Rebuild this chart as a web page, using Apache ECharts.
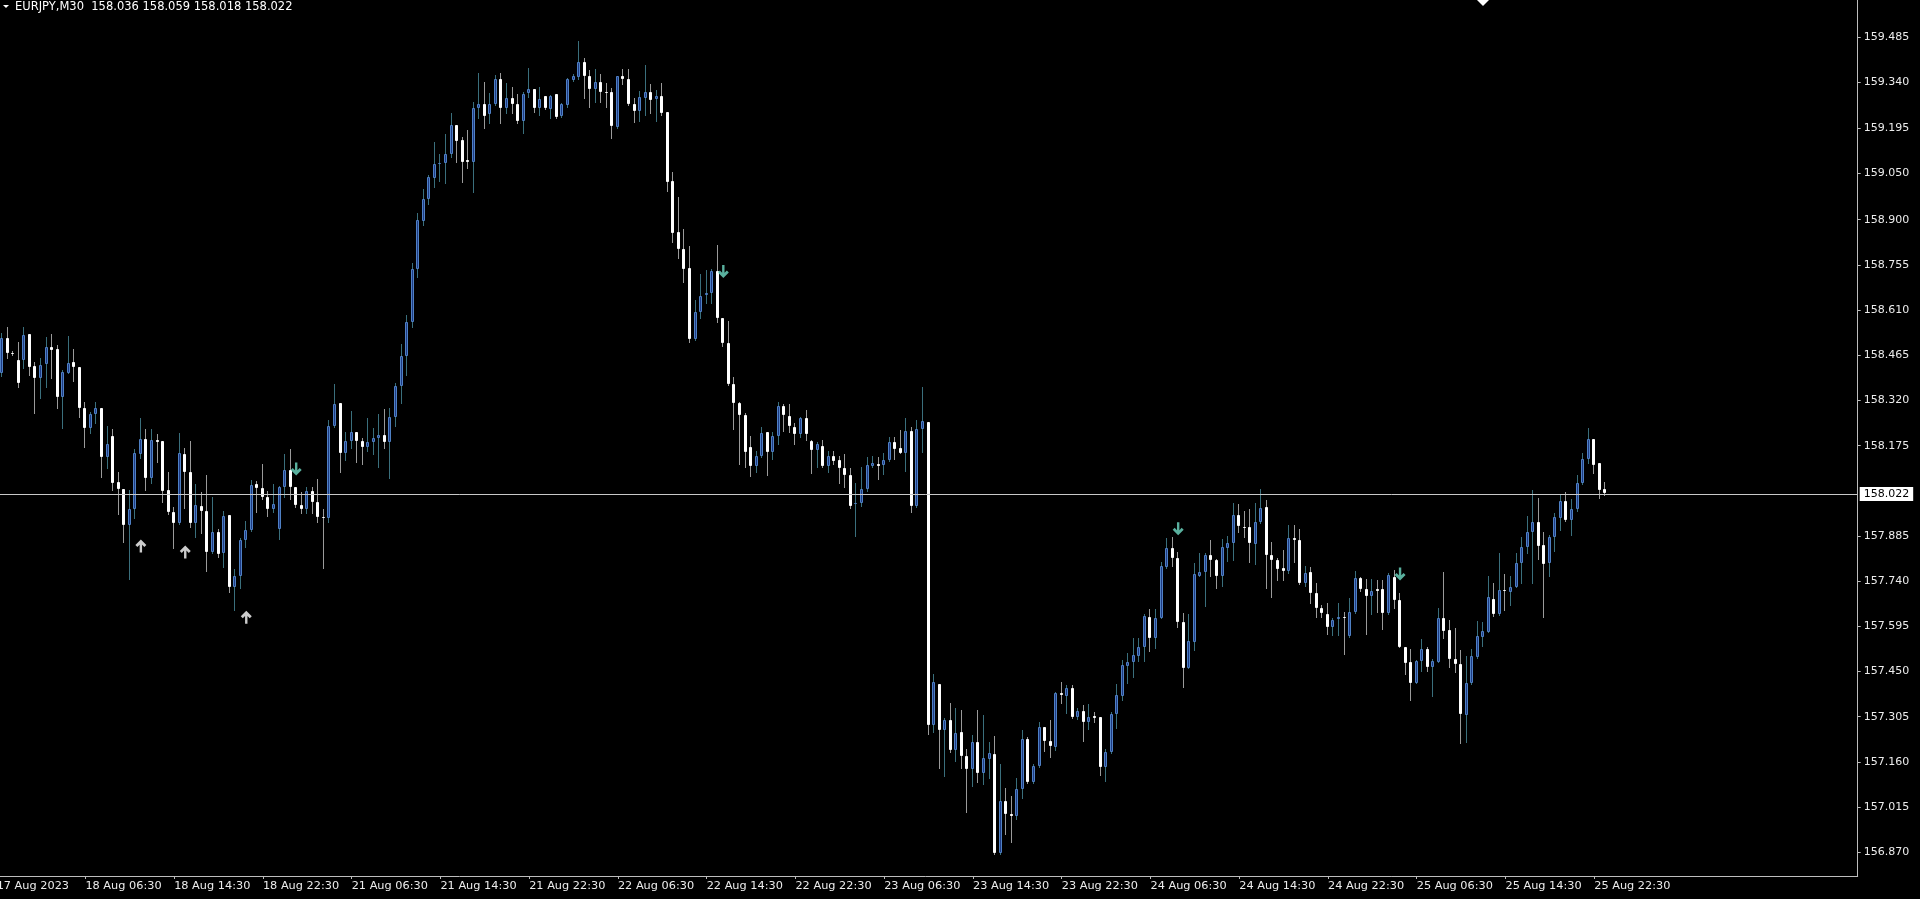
<!DOCTYPE html>
<html><head><meta charset="utf-8">
<script src="https://cdn.jsdelivr.net/npm/echarts@6/dist/echarts.min.js"></script>
<style>html,body{margin:0;padding:0;background:#000;overflow:hidden;width:1920px;height:899px;position:relative}
#c{position:absolute;left:-7px;top:0;width:1927px;height:899px}</style>
</head><body><div id="c"></div>
<script>
const symbolName = 'EURJPY,M30';
const open = [null,
158.407,158.519,158.473,158.450,158.450,158.532,158.431,158.391,158.436,158.492,
158.484,158.332,158.409,158.445,158.428,158.297,158.233,158.276,158.297,158.140,
158.206,158.059,158.036,157.920,157.971,158.148,158.195,158.070,158.192,158.190,
158.033,157.963,157.926,158.148,158.092,157.926,157.981,157.966,157.835,157.899,
157.830,157.952,157.720,157.757,157.872,157.904,158.051,158.040,158.011,157.971,
157.906,158.041,158.097,158.041,157.985,157.971,158.031,157.993,157.947,157.943,
158.239,158.311,158.150,158.190,158.218,158.190,158.172,158.186,158.199,158.209,
158.186,158.266,158.368,158.464,158.571,158.741,158.897,158.966,159.033,159.079,
159.081,159.112,159.204,159.155,159.091,159.086,159.258,159.273,159.238,159.273,
159.351,159.260,159.292,159.270,159.218,159.306,159.319,159.258,159.297,159.255,
159.303,159.233,159.268,159.348,159.359,159.407,159.362,159.319,159.343,159.310,
159.311,159.199,159.361,159.351,159.270,159.249,159.290,159.311,159.288,159.297,
159.247,159.025,158.860,158.806,158.744,158.516,158.603,158.657,158.664,158.737,
158.586,158.506,158.372,158.311,158.273,158.172,158.110,158.143,158.218,158.154,
158.207,158.302,158.271,158.236,158.211,158.265,158.191,158.161,158.175,158.110,
158.142,158.129,158.104,158.080,157.987,157.990,158.036,158.111,158.115,158.113,
158.129,158.188,158.166,158.153,158.222,157.981,158.227,158.252,157.279,157.410,
157.263,157.293,157.198,157.255,157.179,157.137,157.225,157.123,157.168,157.185,
156.869,157.033,156.993,156.987,157.072,157.234,157.094,157.147,157.273,157.228,
157.209,157.381,157.373,157.396,157.305,157.323,157.287,157.307,157.303,157.143,
157.191,157.313,157.373,157.469,157.480,157.501,157.529,157.626,157.557,157.623,
157.787,157.846,157.816,157.610,157.463,157.546,157.758,157.771,157.824,157.808,
157.758,157.846,157.862,157.953,157.915,157.913,157.859,157.929,157.977,157.824,
157.808,157.781,157.774,157.880,157.872,157.735,157.769,157.701,157.655,157.635,
157.594,157.618,157.626,157.564,157.640,157.749,157.715,157.694,157.714,157.714,
157.637,157.755,157.680,157.530,157.480,157.414,157.484,157.521,157.466,157.482,
157.621,157.583,157.490,157.474,157.311,157.412,157.498,157.562,157.578,157.683,
157.635,157.713,157.704,157.722,157.797,157.849,157.897,157.931,157.856,157.797,
157.881,157.944,157.997,157.936,157.971,158.054,158.131,158.196,158.120,158.036];
const high = [null,
158.535,158.557,158.478,158.507,158.555,158.532,158.445,158.455,158.525,158.532,
158.498,158.418,158.527,158.484,158.428,158.316,158.284,158.316,158.297,158.238,
158.227,158.092,158.036,158.033,158.163,158.263,158.227,158.227,158.212,158.190,
158.092,157.979,158.215,158.166,158.191,158.052,158.027,158.081,158.009,157.908,
157.966,157.952,157.778,157.878,157.934,158.065,158.063,158.115,158.031,158.051,
158.046,158.148,158.164,158.041,158.025,158.041,158.041,158.068,157.971,158.257,
158.373,158.311,158.220,158.286,158.218,158.199,158.263,158.231,158.276,158.293,
158.295,158.375,158.500,158.594,158.760,158.921,158.998,159.044,159.151,159.110,
159.175,159.242,159.204,159.165,159.187,159.277,159.370,159.343,159.308,159.365,
159.370,159.338,159.325,159.302,159.311,159.386,159.319,159.327,159.297,159.300,
159.303,159.274,159.356,159.367,159.474,159.420,159.381,159.383,159.368,159.338,
159.324,159.361,159.383,159.383,159.290,159.313,159.397,159.335,159.316,159.338,
159.247,159.054,158.974,158.869,158.817,158.642,158.725,158.739,158.741,158.819,
158.586,158.575,158.396,158.314,158.281,158.206,158.159,158.236,158.218,158.220,
158.314,158.308,158.308,158.249,158.268,158.290,158.193,158.188,158.193,158.159,
158.159,158.142,158.148,158.104,158.054,158.108,158.140,158.142,158.140,158.153,
158.202,158.202,158.225,158.263,158.236,158.257,158.364,158.252,157.442,157.410,
157.300,157.348,157.334,157.327,157.200,157.246,157.327,157.311,157.225,157.243,
157.153,157.075,157.051,157.107,157.263,157.239,157.153,157.289,157.273,157.295,
157.386,157.416,157.407,157.407,157.332,157.343,157.345,157.321,157.305,157.200,
157.319,157.410,157.487,157.511,157.559,157.559,157.634,157.650,157.650,157.803,
157.878,157.883,157.833,157.637,157.635,157.797,157.829,157.832,157.872,157.810,
157.875,157.885,157.990,157.988,157.966,157.971,157.992,158.035,157.999,157.867,
157.813,157.840,157.920,157.920,157.906,157.789,157.785,157.733,157.664,157.669,
157.621,157.671,157.642,157.685,157.774,157.755,157.747,157.746,157.744,157.744,
157.767,157.776,157.701,157.530,157.521,157.487,157.555,157.530,157.489,157.655,
157.771,157.616,157.591,157.519,157.501,157.521,157.612,157.610,157.758,157.735,
157.829,157.763,157.757,157.832,157.881,157.949,158.033,158.006,157.899,157.888,
157.958,158.017,158.027,158.003,158.081,158.153,158.231,158.196,158.120,158.059];
const low = [null,
158.400,158.455,158.466,158.364,158.423,158.402,158.279,158.327,158.364,158.391,
158.295,158.231,158.407,158.384,158.268,158.172,158.215,158.247,158.075,158.102,
158.033,157.956,157.865,157.746,157.942,158.134,158.033,158.056,158.124,157.995,
157.956,157.846,157.924,157.974,157.915,157.883,157.894,157.774,157.830,157.817,
157.787,157.706,157.648,157.717,157.851,157.902,157.963,158.003,157.949,157.963,
157.874,158.011,158.003,157.979,157.958,157.960,157.960,157.931,157.781,157.931,
158.236,158.092,158.129,158.169,158.124,158.115,158.158,158.147,158.106,158.169,
158.070,158.238,158.313,158.402,158.557,158.715,158.883,158.951,159.004,159.024,
159.017,159.102,159.084,159.020,159.065,158.990,159.225,159.193,159.209,159.268,
159.209,159.242,159.242,159.209,159.177,159.295,159.247,159.236,159.255,159.226,
159.228,159.231,159.261,159.345,159.351,159.290,159.263,159.279,159.279,159.263,
159.163,159.193,159.335,159.268,159.215,159.217,159.236,159.242,159.217,159.236,
158.992,158.830,158.778,158.699,158.507,158.514,158.584,158.632,158.632,158.573,
158.495,158.370,158.227,158.116,158.108,158.076,158.089,158.140,158.081,158.132,
158.180,158.223,158.220,158.180,158.204,158.193,158.088,158.108,158.108,158.089,
158.116,158.056,158.043,157.976,157.885,157.982,158.031,158.108,158.067,158.083,
158.126,158.132,158.150,158.095,157.961,157.979,158.156,157.250,157.257,157.140,
157.115,157.193,157.164,157.140,157.000,157.083,157.094,157.089,157.107,156.865,
156.865,156.929,156.904,156.976,157.043,157.091,157.091,157.145,157.195,157.177,
157.198,157.350,157.316,157.301,157.297,157.228,157.266,157.289,157.118,157.100,
157.190,157.268,157.359,157.414,157.432,157.485,157.484,157.516,157.527,157.621,
157.783,157.790,157.592,157.402,157.460,157.519,157.757,157.660,157.757,157.719,
157.726,157.806,157.808,157.899,157.883,157.803,157.795,157.926,157.717,157.688,
157.744,157.744,157.767,157.803,157.731,157.725,157.671,157.626,157.626,157.571,
157.567,157.567,157.506,157.562,157.639,157.710,157.570,157.635,157.642,157.587,
157.635,157.655,157.528,157.442,157.359,157.412,157.453,157.453,157.372,157.480,
157.557,157.466,157.448,157.222,157.225,157.410,157.492,157.532,157.576,157.628,
157.632,157.648,157.664,157.720,157.733,157.829,157.735,157.810,157.624,157.757,
157.838,157.904,157.934,157.888,157.966,158.051,158.120,158.086,158.008,158.018];
const close = [null,
158.519,158.473,158.472,158.377,158.530,158.428,158.391,158.434,158.493,158.483,
158.332,158.412,158.441,158.426,158.295,158.233,158.277,158.297,158.140,158.180,
158.056,158.035,157.920,157.971,158.153,158.196,158.070,158.193,158.187,158.030,
157.961,157.926,158.150,158.092,157.926,157.985,157.966,157.835,157.897,157.827,
157.950,157.722,157.757,157.872,157.904,158.048,158.038,158.011,157.971,157.988,
158.041,158.097,158.041,157.983,157.971,158.031,157.993,157.945,157.943,158.239,
158.309,158.150,158.191,158.218,158.190,158.172,158.186,158.201,158.209,158.186,
158.266,158.368,158.464,158.573,158.741,158.898,158.966,159.036,159.079,159.082,
159.112,159.204,159.153,159.086,159.086,159.258,159.270,159.234,159.273,159.351,
159.260,159.292,159.270,159.218,159.305,159.319,159.260,159.286,159.258,159.298,
159.231,159.270,159.351,159.361,159.407,159.362,159.319,159.341,159.309,159.308,
159.202,159.361,159.352,159.270,159.249,159.293,159.311,159.284,159.297,159.242,
159.022,158.859,158.806,158.742,158.516,158.603,158.656,158.664,158.737,158.586,
158.503,158.372,158.311,158.273,158.154,158.110,158.143,158.217,158.154,158.207,
158.302,158.273,158.238,158.211,158.265,158.212,158.161,158.179,158.110,158.142,
158.127,158.104,158.080,157.981,157.990,158.036,158.112,158.118,158.111,158.129,
158.186,158.164,158.153,158.222,157.981,158.227,158.255,157.279,157.418,157.263,
157.293,157.198,157.252,157.180,157.137,157.223,157.123,157.172,157.188,156.869,
157.033,156.993,156.988,157.072,157.234,157.094,157.147,157.273,157.227,157.211,
157.382,157.376,157.396,157.303,157.325,157.287,157.305,157.300,157.145,157.191,
157.314,157.375,157.471,157.480,157.503,157.529,157.628,157.557,157.623,157.789,
157.846,157.816,157.610,157.463,157.548,157.762,157.771,157.824,157.808,157.758,
157.849,157.862,157.953,157.917,157.912,157.862,157.931,157.976,157.824,157.808,
157.778,157.774,157.880,157.872,157.733,157.767,157.701,157.653,157.637,157.594,
157.616,157.626,157.621,157.640,157.749,157.714,157.694,157.709,157.709,157.637,
157.760,157.680,157.530,157.476,157.414,157.484,157.521,157.466,157.484,157.621,
157.581,157.490,157.473,157.314,157.414,157.501,157.564,157.580,157.688,157.635,
157.712,157.708,157.722,157.797,157.849,157.897,157.931,157.853,157.795,157.883,
157.945,157.997,157.936,157.971,158.054,158.131,158.196,158.113,158.033,158.022];

const timeTickLabels = ['17 Aug 2023','18 Aug 06:30','18 Aug 14:30','18 Aug 22:30','21 Aug 06:30',
  '21 Aug 14:30','21 Aug 22:30','22 Aug 06:30','22 Aug 14:30','22 Aug 22:30','23 Aug 06:30',
  '23 Aug 14:30','23 Aug 22:30','24 Aug 06:30','24 Aug 14:30','24 Aug 22:30','25 Aug 06:30',
  '25 Aug 14:30','25 Aug 22:30'];
const priceTicks = [159.485,159.340,159.195,159.050,158.900,158.755,158.610,158.465,158.320,
  158.175,157.885,157.740,157.595,157.450,157.305,157.160,157.015,156.870];
const buyArrows = [[26,157.853],[34,157.834],[45,157.624]];
const sellArrows = [[54,158.100],[131,158.734],[213,157.908],[253,157.763]];

const SLOTS = 336, LABEL_STEP = 16;
const OFFSET = 7; // chart canvas starts 7px left of the page
const categories = Array.from({length: SLOTS}, (_, i) => String(i));
const candles = [];
for (let i = 1; i < open.length; i++) candles.push([i, open[i], close[i], low[i], high[i]]);
const last = open.length - 1;

const BULL_FILL = '#1e3b84', BULL_EDGE = '#4f80c4', BULL_WICK = '#3a6f7c';
const BEAR_FILL = '#ffffff', BEAR_WICK = '#9a9a9a';
const AXIS = '#bdbdbd', TEXT = '#ececec', FONT = 'DejaVu Sans';

function renderCandle(params, api) {
  const i = api.value(0), o = api.value(1), c = api.value(2), l = api.value(3), h = api.value(4);
  const up = c > o;
  const cx = Math.round(api.coord([i, o])[0]);
  const yO = api.coord([i, o])[1], yC = api.coord([i, c])[1];
  const yH = api.coord([i, h])[1], yL = api.coord([i, l])[1];
  const top = Math.round(Math.min(yO, yC)), bot = Math.round(Math.max(yO, yC));
  return {
    type: 'group',
    children: [
      { type: 'line', shape: { x1: cx - 0.5, y1: Math.round(yH), x2: cx - 0.5, y2: Math.round(yL) + 1 },
        style: { stroke: up ? BULL_WICK : BEAR_WICK, lineWidth: 1 } },
      { type: 'rect', shape: { x: cx - 1.5, y: top + 0.5, width: 2, height: Math.max(bot - top - 1, 0) },
        style: { fill: up ? BULL_FILL : BEAR_FILL, stroke: up ? BULL_EDGE : BEAR_FILL, lineWidth: 1 } }
    ]
  };
}

const chart = echarts.init(document.getElementById('c'), null, { renderer: 'canvas' });
const tickShown = (idx) => idx % LABEL_STEP === 0 && idx / LABEL_STEP < timeTickLabels.length;
chart.setOption({
  backgroundColor: '#000000',
  animation: false,
  grid: { left: 0.876, right: 62.3, top: 0, bottom: 23, containLabel: false },
  xAxis: {
    type: 'category', data: categories, boundaryGap: true,
    axisLine: { show: true, lineStyle: { color: AXIS, width: 1 } },
    axisTick: { show: true, interval: (idx) => tickShown(idx), alignWithLabel: true, length: 3, lineStyle: { color: AXIS } },
    axisLabel: { interval: (idx) => tickShown(idx), formatter: (v, idx) => timeTickLabels[idx / LABEL_STEP],
      align: 'left', color: TEXT, fontFamily: FONT, fontSize: 11.3, margin: 5 },
    splitLine: { show: false }
  },
  yAxis: {
    type: 'value', position: 'right', min: 156.7939, max: 159.6052, scale: true,
    axisLine: { show: true, lineStyle: { color: AXIS, width: 1 } },
    axisTick: { show: true, customValues: priceTicks, length: 3, lineStyle: { color: AXIS } },
    axisLabel: { customValues: priceTicks, formatter: (v) => v.toFixed(3), color: TEXT, fontFamily: FONT, fontSize: 11, margin: 6 },
    splitLine: { show: false }
  },
  series: [
    {
      type: 'custom', name: symbolName, renderItem: renderCandle, data: candles,
      encode: { x: 0, y: [1, 2, 3, 4] }, clip: false,
      markLine: {
        symbol: 'none', silent: true, animation: false,
        lineStyle: { color: '#c8c8c8', width: 1, type: 'solid' },
        label: { show: true, position: 'end', formatter: close[last].toFixed(3), backgroundColor: '#ffffff',
          color: '#000000', fontFamily: FONT, fontSize: 11, padding: [2, 4, 1, 4], distance: 2 },
        data: [{ yAxis: close[last] }]
      }
    },
    {
      type: 'scatter', data: buyArrows,
      symbol: 'path://M5.5,0 L11,5.5 L9,7.5 L6.7,5.2 L6.7,13 L4.3,13 L4.3,5.2 L2,7.5 L0,5.5 Z',
      symbolSize: [11, 13], itemStyle: { color: '#ffffff' }, silent: true
    },
    {
      type: 'scatter', data: sellArrows,
      symbol: 'path://M4.3,0 L6.7,0 L6.7,7.8 L9,5.5 L11,7.5 L5.5,13 L0,7.5 L2,5.5 L4.3,7.8 Z',
      symbolSize: [11, 13], itemStyle: { color: '#6fdcc6' }, silent: true
    }
  ],
  graphic: [
    { type: 'polygon', shape: { points: [[3 + OFFSET, 5], [9 + OFFSET, 5], [6 + OFFSET, 8]] }, style: { fill: '#ffffff' } },
    { type: 'text', x: 15 + OFFSET, y: 1, style: { text: symbolName + '  ' + [open[last], high[last], low[last], close[last]].map(v => v.toFixed(3)).join(' '),
      fill: '#ffffff', font: '11.5px "DejaVu Sans"' } },
    { type: 'polygon', shape: { points: [[1477 + OFFSET, 0], [1489 + OFFSET, 0], [1483 + OFFSET, 6]] }, style: { fill: '#ffffff' } }
  ]
});
</script></body></html>
